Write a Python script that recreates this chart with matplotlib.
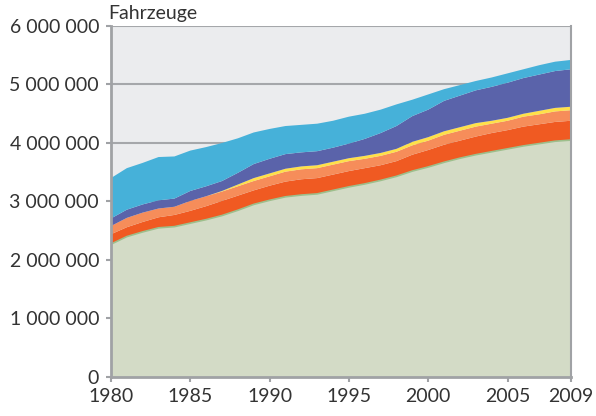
import matplotlib
matplotlib.use("Agg")
import matplotlib.pyplot as plt
import numpy as np

# Fahrzeugbestand, Werte in Millionen
years = list(range(1980, 2010))
base = [2.27, 2.40, 2.48, 2.55, 2.57, 2.63, 2.69, 2.76, 2.85, 2.95,
        3.02, 3.08, 3.11, 3.13, 3.19, 3.25, 3.30, 3.36, 3.43, 3.52,
        3.59, 3.67, 3.74, 3.80, 3.85, 3.90, 3.95, 3.99, 4.03, 4.05]
red = [0.17, 0.16, 0.17, 0.18, 0.20, 0.21, 0.23, 0.25, 0.25, 0.24,
       0.25, 0.26, 0.27, 0.27, 0.27, 0.27, 0.27, 0.26, 0.26, 0.28,
       0.29, 0.30, 0.30, 0.31, 0.32, 0.32, 0.33, 0.33, 0.33, 0.33]
salmon = [0.14, 0.16, 0.16, 0.15, 0.14, 0.17, 0.17, 0.16, 0.16, 0.16,
          0.16, 0.17, 0.17, 0.17, 0.17, 0.17, 0.16, 0.16, 0.16, 0.16,
          0.16, 0.17, 0.17, 0.17, 0.16, 0.16, 0.17, 0.17, 0.18, 0.18]
yellow = [0, 0, 0, 0, 0, 0, 0, 0.01, 0.03, 0.05,
          0.05, 0.05, 0.05, 0.05, 0.05, 0.05, 0.05, 0.05, 0.05, 0.06,
          0.06, 0.06, 0.06, 0.06, 0.05, 0.05, 0.05, 0.06, 0.06, 0.06]
purple = [0.13, 0.14, 0.14, 0.14, 0.14, 0.17, 0.17, 0.17, 0.20, 0.24,
          0.25, 0.25, 0.24, 0.24, 0.24, 0.25, 0.29, 0.34, 0.39, 0.44,
          0.47, 0.52, 0.54, 0.56, 0.58, 0.60, 0.61, 0.62, 0.63, 0.64]
cyan = [0.69, 0.71, 0.71, 0.74, 0.72, 0.69, 0.67, 0.65, 0.59, 0.54,
        0.51, 0.48, 0.47, 0.47, 0.46, 0.46, 0.43, 0.40, 0.37, 0.28,
        0.26, 0.20, 0.18, 0.16, 0.16, 0.16, 0.15, 0.16, 0.16, 0.16]

xticks = [1980, 1985, 1990, 1995, 2000, 2005, 2009]
yticks = [0, 1000000, 2000000, 3000000, 4000000, 5000000, 6000000]

colors = ["#D3DBC6", "#F05A22", "#F68D5A", "#FFE04A", "#5A63AA", "#46B1D9"]

plt.rcParams["font.family"] = ["Lato", "DejaVu Sans"]

fig = plt.figure(figsize=(5.96, 4.16), dpi=100)
ax = fig.add_axes([0.1862, 0.0938, 0.958 - 0.1862, 0.9375 - 0.0938])
ax.set_facecolor("#EBECEE")

layers = [np.array(s) * 1e6 for s in [base, red, salmon, yellow, purple, cyan]]
ax.stackplot(years, *layers, colors=colors, linewidth=0, zorder=2)
ax.plot(years, layers[0], color="#9DBF8C", lw=1.2, zorder=3)

for v in yticks[1:]:
    ax.axhline(v, color="#A5A7AA", lw=1.5, zorder=1)

ax.set_xlim(1980, 2009)
ax.set_ylim(0, 6000000)
ax.set_xticks(xticks)
ax.set_yticks(yticks)
ax.set_yticklabels([f"{v:,}".replace(",", " ") for v in yticks])

for s in ["left", "bottom"]:
    ax.spines[s].set_color("#A0A2A5")
    ax.spines[s].set_linewidth(2)
ax.spines["right"].set_color("#A0A2A5")
ax.spines["right"].set_linewidth(1.5)
ax.spines["top"].set_visible(False)
for sp in ax.spines.values():
    sp.set_zorder(4)

ax.tick_params(axis="both", colors="#A0A2A5", labelcolor="#333333",
               labelsize=14, width=1.5, length=3.6)
ax.tick_params(axis="x", pad=4)
ax.tick_params(axis="y", pad=5)

ax.text(-0.006, 1.02, "Fahrzeuge", transform=ax.transAxes, fontsize=14,
        color="#333333", ha="left", va="baseline")

fig.savefig("out.png", dpi=100)
